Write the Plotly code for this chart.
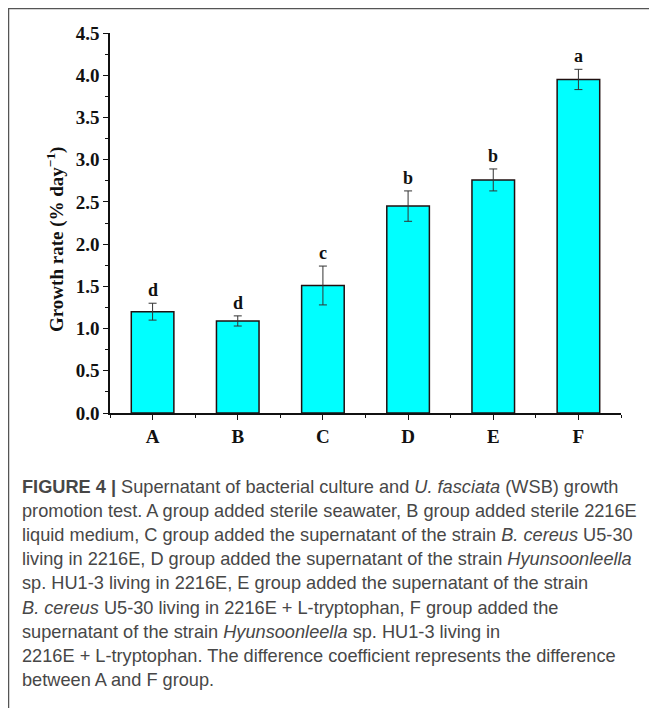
import plotly.graph_objects as go

groups = ["A", "B", "C", "D", "E", "F"]
growth = [1.20, 1.09, 1.51, 2.45, 2.76, 3.95]
err = [0.10, 0.06, 0.23, 0.18, 0.13, 0.12]
sig = ["d", "d", "c", "b", "b", "a"]
y_ticks = [0.0, 0.5, 1.0, 1.5, 2.0, 2.5, 3.0, 3.5, 4.0, 4.5]
caption_lines = [
    "<b>FIGURE 4 |</b> Supernatant of bacterial culture and <i>U. fasciata</i> (WSB) growth",
    "promotion test. A group added sterile seawater, B group added sterile 2216E",
    "liquid medium, C group added the supernatant of the strain <i>B. cereus</i> U5-30",
    "living in 2216E, D group added the supernatant of the strain <i>Hyunsoonleella</i>",
    "sp. HU1-3 living in 2216E, E group added the supernatant of the strain",
    "<i>B. cereus</i> U5-30 living in 2216E + L-tryptophan, F group added the",
    "supernatant of the strain <i>Hyunsoonleella</i> sp. HU1-3 living in",
    "2216E + L-tryptophan. The difference coefficient represents the difference",
    "between A and F group.",
]

OFF = 8  # page body margin: figure is drawn starting at (8, 8)
W, H = 657 - OFF, 708 - OFF
# plot area in reference pixel coords
L, R, T, B = 110, 621, 33, 413

def px(x):
    return (x - L) / (R - L)

def py(y):
    return (B - y) / (B - T)

xs = list(range(len(groups)))
serif = "Liberation Serif, Times New Roman, serif"
sans = "Liberation Sans, Arial, Helvetica, sans-serif"

fig = go.Figure()
fig.add_trace(go.Bar(
    x=xs, y=growth, width=0.5,
    marker=dict(color="#00FFFF", line=dict(color="#201010", width=1.5)),
    error_y=dict(type="data", array=err, visible=True, color="#333333",
                 thickness=1, width=4),
    showlegend=False,
))

annotations = []
for xi, v, e, s in zip(xs, growth, err, sig):
    annotations.append(dict(
        x=xi, y=v + e, xref="x", yref="y", text=s, showarrow=False,
        yanchor="bottom", yshift=1,
        font=dict(family=serif, size=18, color="#111111", weight="bold"),
    ))

annotations.append(dict(
    x=px(55), y=py(240), xref="paper", yref="paper",
    text="Growth rate (% day<sup>\u22121</sup>)", textangle=-90,
    showarrow=False, xanchor="center", yanchor="middle",
    font=dict(family=serif, size=19, color="#111111", weight="bold"),
))

line_y0 = 487
for i, line in enumerate(caption_lines):
    annotations.append(dict(
        x=px(20), y=py(line_y0 + i * 24.1), xref="paper", yref="paper",
        text=line, showarrow=False, xanchor="left", yanchor="middle",
        align="left",
        font=dict(family=sans, size=18.2, color="#474747"),
    ))

shapes = [
    dict(type="line", xref="paper", yref="paper",
         x0=px(8), x1=px(670), y0=py(8.5), y1=py(8.5),
         line=dict(color="#555555", width=1.5)),
    dict(type="line", xref="paper", yref="paper",
         x0=px(8.5), x1=px(8.5), y0=py(8), y1=py(720),
         line=dict(color="#555555", width=1.5)),
]

fig.update_layout(
    width=W, height=H,
    margin=dict(l=L - OFF, r=657 - R, t=T - OFF, b=708 - B, pad=0),
    paper_bgcolor="white", plot_bgcolor="white",
    annotations=annotations, shapes=shapes,
    xaxis=dict(
        range=[-0.5, 5.5], tickmode="array", tickvals=xs, ticktext=groups,
        ticks="outside", ticklen=5, tickwidth=1.2, tickcolor="#111111",
        showline=True, linecolor="#111111", linewidth=1.5,
        showgrid=False, zeroline=False,
        tickfont=dict(family=serif, size=19, color="#111111", weight="bold"),
        minor=dict(tickvals=[-0.5, 0.5, 1.5, 2.5, 3.5, 4.5, 5.5],
                   ticks="outside", ticklen=3, tickwidth=1.2,
                   tickcolor="#111111", showgrid=False),
    ),
    yaxis=dict(
        range=[0, 4.5], tickmode="array", tickvals=y_ticks,
        ticktext=[f"{v:.1f}" for v in y_ticks],
        ticks="outside", ticklen=5, tickwidth=1.2, tickcolor="#111111",
        showline=True, linecolor="#111111", linewidth=1.5,
        showgrid=False, zeroline=False,
        tickfont=dict(family=serif, size=19, color="#111111", weight="bold"),
        minor=dict(dtick=0.25, tick0=0, ticks="outside", ticklen=3,
                   tickwidth=1.2, tickcolor="#111111", showgrid=False),
    ),
)

fig.write_html("out.html")
